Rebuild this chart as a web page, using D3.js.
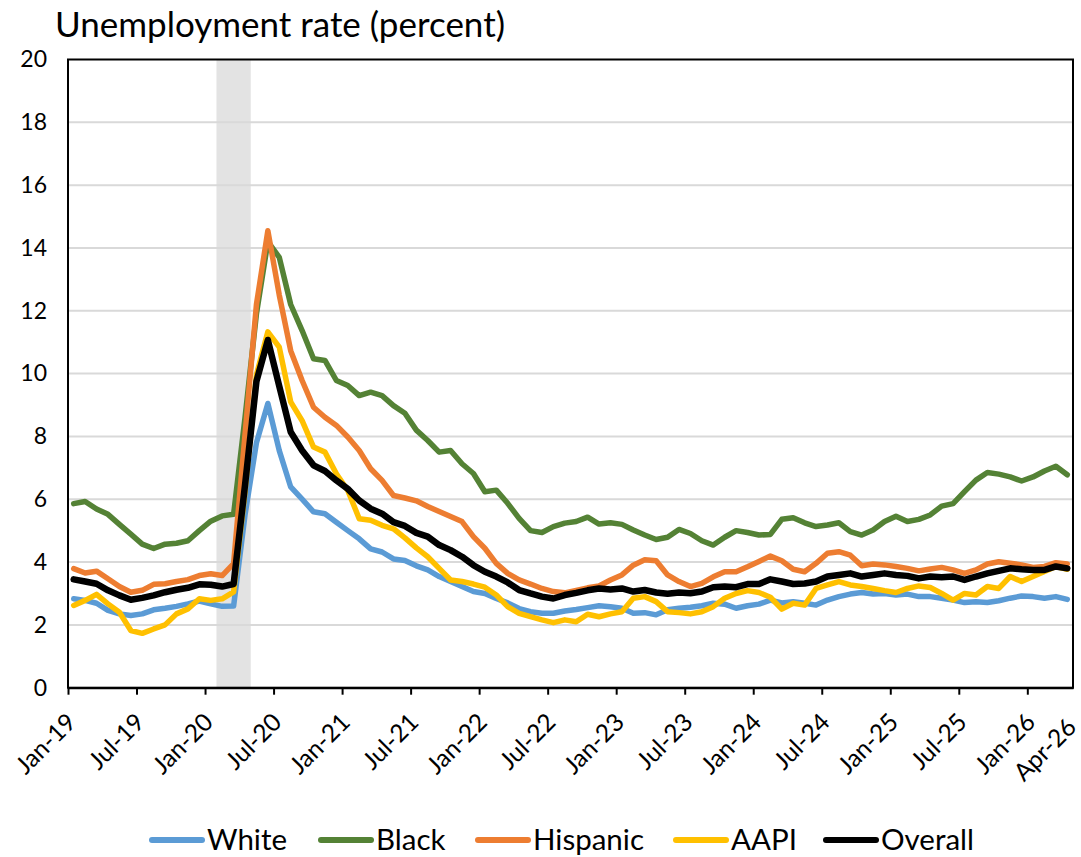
<!DOCTYPE html>
<html>
<head>
<meta charset="utf-8">
<script src="https://cdn.jsdelivr.net/npm/d3@7"></script>
<style>
  html, body { margin: 0; padding: 0; background: #ffffff; }
  svg { display: block; }
  text { font-family: Lato, "Open Sans", "Liberation Sans", sans-serif; fill: #000; }
</style>
</head>
<body>
<svg id="chart" width="1081" height="857"></svg>
<script>
// ---------------- DATA ----------------
const months = d3.timeMonths(new Date(2019, 0, 1), new Date(2026, 4, 1)).map(d3.timeFormat("%b-%y")); // Jan-19 .. Apr-26 (88)
const tickLabels = ["Jan-19","Jul-19","Jan-20","Jul-20","Jan-21","Jul-21","Jan-22","Jul-22","Jan-23","Jul-23","Jan-24","Jul-24","Jan-25","Jul-25","Jan-26","Apr-26"];
const yTicks = [0,2,4,6,8,10,12,14,16,18,20];
const recession = ["Feb-20","Apr-20"];
const seriesNames = ["White","Black","Hispanic","AAPI","Overall"];

const white = [2.83,2.78,2.69,2.46,2.35,2.30,2.35,2.48,2.53,2.59,2.67,2.76,
  2.67,2.59,2.60,5.50,7.80,9.05,7.55,6.39,6.00,5.60,5.54,5.27,
  5.00,4.74,4.42,4.32,4.10,4.05,3.88,3.75,3.54,3.38,3.22,3.06,
  3.00,2.84,2.70,2.52,2.42,2.37,2.37,2.44,2.49,2.55,2.61,2.58,
  2.53,2.37,2.39,2.32,2.48,2.53,2.56,2.61,2.69,2.66,2.53,2.61,
  2.66,2.79,2.70,2.74,2.69,2.63,2.79,2.90,2.98,3.03,2.98,3.00,
  2.95,2.98,2.90,2.90,2.85,2.79,2.71,2.74,2.71,2.77,2.85,2.92,
  2.90,2.85,2.90,2.81];
const black = [5.86,5.93,5.69,5.52,5.20,4.89,4.57,4.43,4.57,4.60,4.68,5.00,
  5.30,5.47,5.52,8.60,11.90,14.20,13.70,12.20,11.37,10.47,10.42,9.78,
  9.62,9.30,9.41,9.30,8.98,8.74,8.20,7.87,7.50,7.55,7.13,6.82,
  6.24,6.29,5.87,5.39,5.00,4.94,5.13,5.24,5.29,5.43,5.21,5.25,
  5.20,5.02,4.86,4.72,4.79,5.04,4.91,4.68,4.54,4.79,5.00,4.94,
  4.86,4.88,5.36,5.41,5.25,5.13,5.18,5.25,4.97,4.86,5.02,5.29,
  5.46,5.29,5.36,5.50,5.78,5.86,6.24,6.61,6.85,6.80,6.71,6.58,
  6.71,6.90,7.05,6.78];
const hispanic = [3.79,3.65,3.71,3.47,3.22,3.04,3.10,3.29,3.31,3.38,3.44,3.57,
  3.63,3.57,3.95,8.05,12.20,14.55,12.50,10.73,9.78,8.93,8.61,8.35,
  7.98,7.55,6.97,6.60,6.12,6.04,5.95,5.77,5.61,5.45,5.29,4.81,
  4.44,3.96,3.64,3.43,3.30,3.16,3.06,3.02,3.10,3.18,3.24,3.43,
  3.59,3.90,4.07,4.04,3.59,3.38,3.22,3.32,3.53,3.69,3.69,3.85,
  4.02,4.19,4.04,3.77,3.69,3.96,4.28,4.33,4.22,3.88,3.94,3.91,
  3.86,3.80,3.72,3.78,3.83,3.75,3.64,3.75,3.94,4.01,3.96,3.91,
  3.83,3.86,3.98,3.94];
const aapi = [2.62,2.78,2.97,2.67,2.40,1.82,1.73,1.87,2.00,2.35,2.51,2.83,
  2.78,2.83,3.05,6.24,9.96,11.33,10.84,9.10,8.50,7.66,7.50,6.81,
  6.28,5.38,5.33,5.17,5.06,4.77,4.45,4.17,3.80,3.43,3.38,3.30,
  3.20,2.95,2.58,2.37,2.26,2.16,2.07,2.16,2.10,2.34,2.26,2.35,
  2.42,2.85,2.90,2.74,2.42,2.39,2.35,2.42,2.58,2.85,3.00,3.09,
  3.03,2.88,2.50,2.69,2.63,3.16,3.27,3.38,3.27,3.22,3.16,3.09,
  3.03,3.16,3.24,3.19,3.00,2.79,3.00,2.95,3.22,3.16,3.54,3.38,
  3.54,3.70,3.86,3.77];
const overall = [3.45,3.38,3.31,3.10,2.94,2.80,2.86,2.94,3.04,3.12,3.18,3.29,
  3.28,3.22,3.30,6.45,9.75,11.07,9.60,8.14,7.55,7.08,6.90,6.60,
  6.33,5.96,5.70,5.54,5.27,5.15,4.93,4.81,4.54,4.38,4.17,3.90,
  3.69,3.54,3.35,3.11,3.00,2.90,2.84,2.95,3.02,3.10,3.16,3.13,
  3.16,3.06,3.11,3.03,2.99,3.03,3.01,3.06,3.20,3.22,3.20,3.30,
  3.30,3.45,3.38,3.30,3.32,3.38,3.54,3.59,3.64,3.54,3.59,3.64,
  3.59,3.56,3.48,3.54,3.52,3.54,3.43,3.54,3.64,3.72,3.80,3.77,
  3.75,3.75,3.86,3.80];

// ---------------- STYLE ----------------
const colors = { White: "#5B9BD5", Black: "#548235", Hispanic: "#ED7D31", AAPI: "#FFC000", Overall: "#000000" };
const widths = { White: 5.5, Black: 5.5, Hispanic: 5.5, AAPI: 5.5, Overall: 6.5 };
const seriesData = { White: white, Black: black, Hispanic: hispanic, AAPI: aapi, Overall: overall };

const plot = { left: 68, right: 1073, top: 59.5, bottom: 687.7 };

const svg = d3.select("#chart");

// scales: x over category boundaries (index), points at category centers
const x = d3.scaleLinear().domain([0, months.length]).range([plot.left, plot.right]);
const y = d3.scaleLinear().domain([0, 20]).range([plot.bottom, plot.top]);
const xc = i => x(i + 0.5);

// recession shading
const r0 = months.indexOf(recession[0]), r1 = months.indexOf(recession[1]) + 1;
svg.append("rect")
  .attr("x", x(r0)).attr("y", plot.top)
  .attr("width", x(r1) - x(r0)).attr("height", plot.bottom - plot.top)
  .attr("fill", "#e3e3e3");

// gridlines
svg.append("g").selectAll("line").data(yTicks.filter(v => v > 0 && v < 20)).join("line")
  .attr("x1", plot.left).attr("x2", plot.right)
  .attr("y1", d => y(d)).attr("y2", d => y(d))
  .attr("stroke", "#d9d9d9").attr("stroke-width", 2);

// y axis labels
const yAxis = d3.axisLeft(y).tickValues(yTicks).tickSize(0).tickPadding(21).tickFormat(d3.format("d"));
const gy = svg.append("g").attr("transform", `translate(${plot.left},0)`).call(yAxis);
gy.select(".domain").remove();
gy.selectAll("text").attr("font-size", 23).attr("font-family", "Lato, sans-serif").attr("fill", "#000");

// lines
const line = d3.line().x((d, i) => xc(i)).y(d => y(d));
seriesNames.forEach(name => {
  svg.append("path")
    .datum(seriesData[name])
    .attr("d", line)
    .attr("fill", "none")
    .attr("stroke", colors[name])
    .attr("stroke-width", widths[name])
    .attr("stroke-linejoin", "round")
    .attr("stroke-linecap", "round");
});

// plot border
svg.append("rect")
  .attr("x", plot.left).attr("y", plot.top)
  .attr("width", plot.right - plot.left).attr("height", plot.bottom - plot.top)
  .attr("fill", "none").attr("stroke", "#000").attr("stroke-width", 2);

// x axis (ticks at category boundaries)
const tickIdx = tickLabels.map(l => {
  const i = months.indexOf(l);
  return l === months[months.length - 1] ? i + 0.5 : i;
});
const labelOf = new Map(tickIdx.map((v, j) => [v, tickLabels[j]]));
const xAxis = d3.axisBottom(x).tickValues(tickIdx).tickSize(7).tickSizeOuter(0)
  .tickFormat(d => labelOf.get(d));
const gx = svg.append("g").attr("transform", `translate(0,${plot.bottom})`).call(xAxis);
gx.select(".domain").attr("stroke", "#000").attr("stroke-width", 2);
gx.selectAll(".tick line").attr("stroke", "#000").attr("stroke-width", 2)
  .attr("display", d => d % 1 ? "none" : null);
gx.selectAll(".tick text")
  .attr("font-size", 24.5).attr("font-family", "Lato, sans-serif").attr("fill", "#000")
  .attr("text-anchor", "end")
  .attr("x", 0).attr("y", 0).attr("dy", 0)
  .attr("transform", d => d % 1 ? "translate(10,41) rotate(-45)" : "translate(9,36) rotate(-45)");

// title
svg.append("text")
  .attr("x", 55).attr("y", 37)
  .attr("font-size", 35)
  .text("Unemployment rate (percent)");

// legend
const legendItems = [
  { name: "White", x: 149 }, { name: "Black", x: 318 }, { name: "Hispanic", x: 475 },
  { name: "AAPI", x: 673 }, { name: "Overall", x: 823 }
];
const lg = svg.append("g");
legendItems.forEach(it => {
  lg.append("line")
    .attr("x1", it.x + 3).attr("x2", it.x + 53)
    .attr("y1", 840).attr("y2", 840)
    .attr("stroke", colors[it.name]).attr("stroke-width", 6)
    .attr("stroke-linecap", "round");
  lg.append("text")
    .attr("x", it.x + 58).attr("y", 850)
    .attr("font-size", 29.5)
    .text(it.name);
});
</script>
</body>
</html>
